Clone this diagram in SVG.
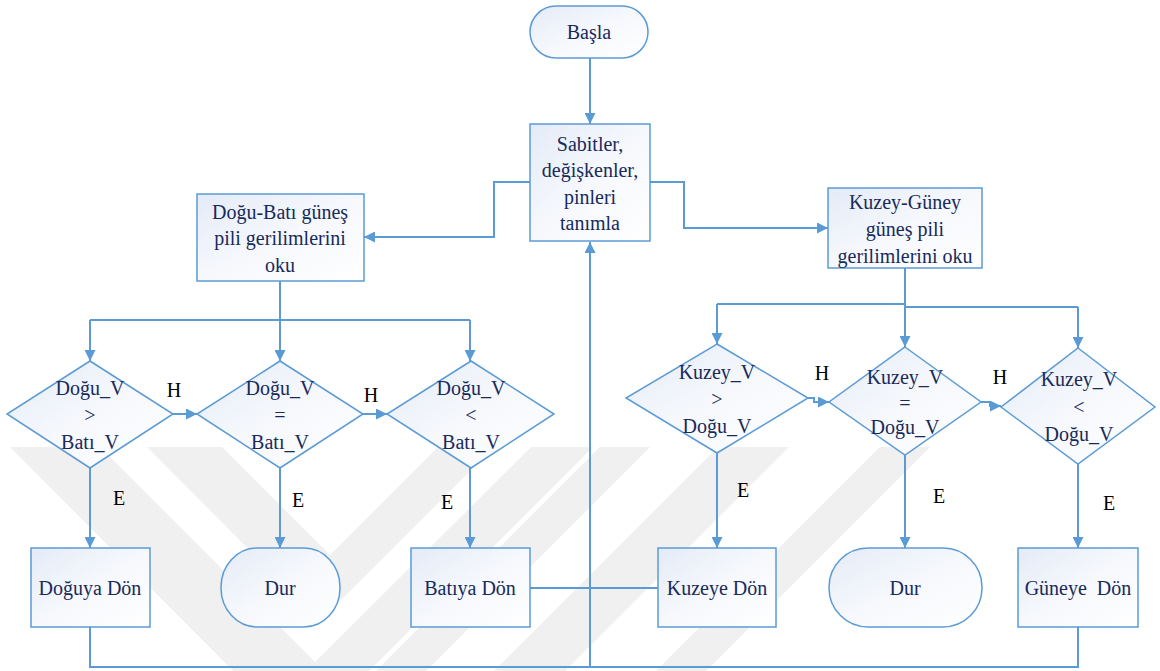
<svg xmlns="http://www.w3.org/2000/svg" width="1160" height="671" viewBox="0 0 1160 671">
<defs>
<linearGradient id="fill" x1="0" y1="0" x2="1" y2="1">
<stop offset="0" stop-color="#e4ebf7"/>
<stop offset="0.5" stop-color="#f6f8fc"/>
<stop offset="1" stop-color="#ffffff"/>
</linearGradient>
<marker id="arr" viewBox="0 0 10 10" refX="10" refY="5" markerWidth="11" markerHeight="11" markerUnits="userSpaceOnUse" orient="auto">
<path d="M0,0 L10,5 L0,10 Z" fill="#5b9bd5"/>
</marker>
<style>
.shape{fill:url(#fill);stroke:#5b9bd5;stroke-width:1.5}
.t{font-family:'Liberation Serif','DejaVu Serif',serif;font-size:20px;fill:#172a5c;text-anchor:middle}
.lbl{font-family:'Liberation Serif','DejaVu Serif',serif;font-size:20px;fill:#000000;text-anchor:middle}
.c{fill:none;stroke:#5b9bd5;stroke-width:2}
.a{marker-end:url(#arr)}
.wm{fill:#f0f0f0}
</style>
</defs>
<rect width="1160" height="671" fill="#ffffff"/>

<g id="watermark">
<polygon class="wm" points="10,447 100,447 315,662 531,447 593,447 301,739"/>
<polygon class="wm" points="147,447 222,447 330,555 438,447 494,447 320,621"/>
<polygon class="wm" points="600,447 650,447 426,671 376,671"/>
<polygon class="wm" points="718,447 789,447 565,671 494,671"/>
<polygon class="wm" points="880,447 930,447 706,671 656,671"/>
</g>

<g id="connectors">
<path class="c a" d="M590,58 V124"/>
<path class="c a" d="M530,182 H494 V237 H364"/>
<path class="c a" d="M650,182 H684 V228 H828"/>
<path class="c" d="M280,281 V320"/>
<path class="c" d="M90,320 H470"/>
<path class="c a" d="M90,320 V361"/>
<path class="c a" d="M280,320 V361"/>
<path class="c a" d="M470,320 V361"/>
<path class="c a" d="M173,414 H197"/>
<path class="c a" d="M363,414 H387"/>
<path class="c a" d="M90,468 V548"/>
<path class="c a" d="M280,468 V548"/>
<path class="c a" d="M470,468 V548"/>
<path class="c" d="M905,268 V307"/>
<path class="c" d="M717,304 H905"/>
<path class="c" d="M905,307 H1078"/>
<path class="c a" d="M717,304 V344"/>
<path class="c a" d="M905,307 V347"/>
<path class="c a" d="M1078,307 V348"/>
<path class="c a" d="M808,398 H814 V402 H829"/>
<path class="c a" d="M981,402 H990 V406 H1001"/>
<path class="c a" d="M717,453 V548"/>
<path class="c a" d="M905,455 V548"/>
<path class="c a" d="M1078,464 V548"/>
<path class="c" d="M530,588 H658"/>
<path class="c" d="M90,627 V667 H1078 V627"/>
<path class="c a" d="M590,667 V242"/>
</g>

<g id="basla">
<rect class="shape" x="530" y="6" width="118" height="52" rx="26" ry="26"/>
<text class="t" x="589" y="39">Başla</text>
</g>

<g id="sabitler">
<rect class="shape" x="530" y="124" width="120" height="117"/>
<text class="t" x="590" y="151">Sabitler,</text>
<text class="t" x="590" y="177">değişkenler,</text>
<text class="t" x="590" y="204">pinleri</text>
<text class="t" x="590" y="230">tanımla</text>
</g>

<g id="dogu-bati-oku">
<rect class="shape" x="197" y="194" width="167" height="87"/>
<text class="t" x="280" y="219">Doğu-Batı güneş</text>
<text class="t" x="280" y="245">pili gerilimlerini</text>
<text class="t" x="280" y="272">oku</text>
</g>

<g id="kuzey-guney-oku">
<rect class="shape" x="828" y="188" width="154" height="80"/>
<text class="t" x="905" y="209">Kuzey-Güney</text>
<text class="t" x="905" y="236">güneş pili</text>
<text class="t" x="905" y="263">gerilimlerini oku</text>
</g>

<g id="d1">
<polygon class="shape" points="90,361 173,414 90,468 7,414"/>
<text class="t" x="90" y="395">Doğu_V</text>
<text class="t" x="90" y="422">&gt;</text>
<text class="t" x="90" y="449">Batı_V</text>
</g>

<g id="d2">
<polygon class="shape" points="280,361 363,414 280,468 197,414"/>
<text class="t" x="280" y="395">Doğu_V</text>
<text class="t" x="280" y="422">=</text>
<text class="t" x="280" y="449">Batı_V</text>
</g>

<g id="d3">
<polygon class="shape" points="471,361 554,414 471,468 387,414"/>
<text class="t" x="471" y="395">Doğu_V</text>
<text class="t" x="471" y="422">&lt;</text>
<text class="t" x="471" y="449">Batı_V</text>
</g>

<g id="d4">
<polygon class="shape" points="717,344 808,398 717,453 626,398"/>
<text class="t" x="717" y="379">Kuzey_V</text>
<text class="t" x="717" y="406">&gt;</text>
<text class="t" x="717" y="433">Doğu_V</text>
</g>

<g id="d5">
<polygon class="shape" points="905,347 981,402 905,455 829,402"/>
<text class="t" x="905" y="384">Kuzey_V</text>
<text class="t" x="905" y="410">=</text>
<text class="t" x="905" y="434">Doğu_V</text>
</g>

<g id="d6">
<polygon class="shape" points="1078,348 1155,407 1078,464 1001,407"/>
<text class="t" x="1079" y="386">Kuzey_V</text>
<text class="t" x="1079" y="414">&lt;</text>
<text class="t" x="1079" y="441">Doğu_V</text>
</g>

<g id="labels">
<text class="lbl" x="174" y="397">H</text>
<text class="lbl" x="371" y="402">H</text>
<text class="lbl" x="822" y="380">H</text>
<text class="lbl" x="1000" y="384">H</text>
<text class="lbl" x="119" y="505">E</text>
<text class="lbl" x="298" y="507">E</text>
<text class="lbl" x="447" y="509">E</text>
<text class="lbl" x="743" y="497">E</text>
<text class="lbl" x="939" y="503">E</text>
<text class="lbl" x="1109" y="510">E</text>
</g>

<g id="doguya-don">
<rect class="shape" x="31" y="548" width="119" height="79"/>
<text class="t" x="90" y="595">Doğuya Dön</text>
</g>

<g id="dur-1">
<rect class="shape" x="221" y="548" width="119" height="79" rx="36" ry="39"/>
<text class="t" x="280" y="595">Dur</text>
</g>

<g id="batiya-don">
<rect class="shape" x="411" y="548" width="119" height="79"/>
<text class="t" x="470" y="595">Batıya Dön</text>
</g>

<g id="kuzeye-don">
<rect class="shape" x="658" y="548" width="118" height="79"/>
<text class="t" x="717" y="595">Kuzeye Dön</text>
</g>

<g id="dur-2">
<rect class="shape" x="829" y="548" width="153" height="79" rx="39" ry="39"/>
<text class="t" x="905" y="595">Dur</text>
</g>

<g id="guneye-don">
<rect class="shape" x="1018" y="548" width="120" height="79"/>
<text class="t" x="1078" y="595" xml:space="preserve">Güneye  Dön</text>
</g>
</svg>
